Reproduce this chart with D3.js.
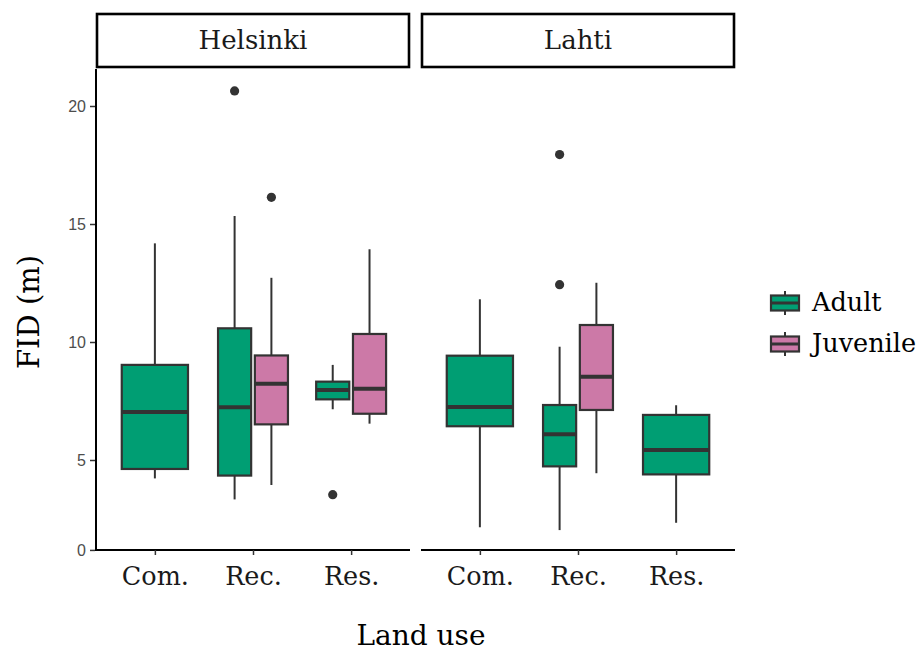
<!DOCTYPE html>
<html>
<head>
<meta charset="utf-8">
<script src="https://cdn.jsdelivr.net/npm/d3@7"></script>
<style>
  html, body { margin: 0; padding: 0; background: #fff; }
  svg { display: block; }
</style>
</head>
<body>
<svg id="chart" width="924" height="653"></svg>
<script>
// ---------------- DATA ----------------
const facets = ["Helsinki", "Lahti"];
const categories = ["Com.", "Rec.", "Res."];
const groups = ["Adult", "Juvenile"];
const groupColors = ["#009E73", "#CC79A7"];

// one entry per box
const boxFacet   = ["Helsinki","Helsinki","Helsinki","Helsinki","Helsinki","Lahti","Lahti","Lahti","Lahti"];
const boxCat     = ["Com.","Rec.","Rec.","Res.","Res.","Com.","Rec.","Rec.","Res."];
const boxGroup   = ["Adult","Adult","Juvenile","Adult","Juvenile","Adult","Adult","Juvenile","Adult"];
const whiskerLow = [4.22, 3.33, 3.94, 7.15, 6.54, 2.15, 2.03, 4.44, 2.34];
const q1         = [4.62, 4.34, 6.51, 7.57, 6.96, 6.43, 4.73, 7.12, 4.39];
const median     = [7.03, 7.23, 8.23, 7.97, 8.02, 7.25, 6.09, 8.53, 5.42];
const q3         = [9.03, 10.58, 9.43, 8.32, 10.34, 9.42, 7.33, 10.72, 6.91];
const whiskerHigh= [14.18, 15.34, 12.72, 9.03, 13.93, 11.81, 9.80, 12.51, 7.32];
const outliers   = [[], [20.64], [16.13], [3.53], [], [], [17.94, 12.43], [], []];

// y axis ticks (bottom label "0" sits at the lower limit of the axis)
const yTickValues = [1.19, 5, 10, 15, 20];
const yTickLabels = ["0", "5", "10", "15", "20"];

// ---------------- LAYOUT ----------------
const svg = d3.select("#chart");
const panelX = { "Helsinki": [96, 410], "Lahti": [421, 735] };
const panelTop = 68, panelBottom = 550;
const stripTop = 14;
const lineCol = "#333333";

const y = d3.scaleLinear().domain([5, 20]).range([460, 106]);

const xScales = {};
facets.forEach(f => {
  xScales[f] = d3.scalePoint().domain(categories).range(panelX[f]).padding(0.6);
});

// strips
facets.forEach(f => {
  const [x0, x1] = panelX[f];
  svg.append("rect")
    .attr("x", x0 + 1).attr("y", stripTop)
    .attr("width", x1 - x0 - 2).attr("height", panelTop - stripTop - 1)
    .attr("fill", "#fff").attr("stroke", "#000").attr("stroke-width", 2.6);
  svg.append("text")
    .attr("x", (x0 + x1) / 2).attr("y", (stripTop + panelTop) / 2 + 1)
    .attr("text-anchor", "middle").attr("dominant-baseline", "middle")
    .attr("font-family", "DejaVu Serif").attr("font-size", 26)
    .attr("fill", "#1a1a1a")
    .text(f);
});

// boxes
const nPerCat = {};
boxFacet.forEach((f, i) => {
  const k = f + "|" + boxCat[i];
  nPerCat[k] = (nPerCat[k] || 0) + 1;
});

boxFacet.forEach((f, i) => {
  const xs = xScales[f];
  const step = xs.step();
  const total = 0.75 * step;
  const k = f + "|" + boxCat[i];
  const n = nPerCat[k];
  let cx, w;
  if (n === 1) {
    cx = xs(boxCat[i]);
    w = total * 0.9;
  } else {
    const gi = groups.indexOf(boxGroup[i]);
    const sub = total / n;
    cx = xs(boxCat[i]) - total / 2 + sub * (gi + 0.5);
    w = sub * 0.9;
  }
  const col = groupColors[groups.indexOf(boxGroup[i])];
  const g = svg.append("g");
  g.append("line").attr("x1", cx).attr("x2", cx)
    .attr("y1", y(q3[i])).attr("y2", y(whiskerHigh[i]))
    .attr("stroke", lineCol).attr("stroke-width", 2);
  g.append("line").attr("x1", cx).attr("x2", cx)
    .attr("y1", y(q1[i])).attr("y2", y(whiskerLow[i]))
    .attr("stroke", lineCol).attr("stroke-width", 2);
  g.append("rect")
    .attr("x", cx - w / 2).attr("y", y(q3[i]))
    .attr("width", w).attr("height", y(q1[i]) - y(q3[i]))
    .attr("fill", col).attr("stroke", lineCol).attr("stroke-width", 2.2);
  g.append("line").attr("x1", cx - w / 2).attr("x2", cx + w / 2)
    .attr("y1", y(median[i])).attr("y2", y(median[i]))
    .attr("stroke", lineCol).attr("stroke-width", 4);
  outliers[i].forEach(v => {
    g.append("circle").attr("cx", cx).attr("cy", y(v)).attr("r", 4.6)
      .attr("fill", lineCol);
  });
});

// left axis line
svg.append("line").attr("x1", 96).attr("x2", 96)
  .attr("y1", panelTop + 1).attr("y2", panelBottom + 1)
  .attr("stroke", "#000").attr("stroke-width", 2);

// y axis ticks & labels
const yAxis = d3.axisLeft(y).tickValues(yTickValues)
  .tickFormat((d, i) => yTickLabels[i]).tickSize(5).tickPadding(4);
const yg = svg.append("g").attr("transform", "translate(95,0)").call(yAxis);
yg.select(".domain").remove();
yg.selectAll(".tick line").attr("stroke", "#333").attr("stroke-width", 1.5);
yg.selectAll(".tick text").attr("font-family", "Liberation Sans, Arial, sans-serif")
  .attr("font-size", 16).attr("fill", "#4d4d4d");

// x axes per panel
facets.forEach(f => {
  const xs = xScales[f];
  const [x0, x1] = panelX[f];
  svg.append("line").attr("x1", x0).attr("x2", x1)
    .attr("y1", panelBottom).attr("y2", panelBottom)
    .attr("stroke", "#000").attr("stroke-width", 2);
  const xa = d3.axisBottom(xs).tickSize(5).tickPadding(12);
  const xg = svg.append("g").attr("transform", `translate(0,${panelBottom})`).call(xa);
  xg.select(".domain").remove();
  xg.selectAll(".tick line").attr("stroke", "#333").attr("stroke-width", 1.5);
  xg.selectAll(".tick text").attr("font-family", "DejaVu Serif")
    .attr("font-size", 25.5).attr("fill", "#1a1a1a");
});

// axis titles
svg.append("text").attr("x", 421).attr("y", 645)
  .attr("text-anchor", "middle").attr("font-family", "DejaVu Serif")
  .attr("font-size", 28).attr("fill", "#000").text("Land use");
svg.append("text")
  .attr("transform", "translate(39,312) rotate(-90)")
  .attr("text-anchor", "middle").attr("font-family", "DejaVu Serif")
  .attr("font-size", 29).attr("fill", "#000").text("FID (m)");

// legend
const legY = [303, 344];
groups.forEach((gName, i) => {
  const cy = legY[i];
  const lx = 771, lw = 28, lh = 15;
  const lg = svg.append("g");
  lg.append("line").attr("x1", lx + lw / 2).attr("x2", lx + lw / 2)
    .attr("y1", cy - 12).attr("y2", cy + 12)
    .attr("stroke", lineCol).attr("stroke-width", 2);
  lg.append("rect").attr("x", lx).attr("y", cy - lh / 2)
    .attr("width", lw).attr("height", lh)
    .attr("fill", groupColors[i]).attr("stroke", lineCol).attr("stroke-width", 2.2);
  lg.append("line").attr("x1", lx).attr("x2", lx + lw)
    .attr("y1", cy).attr("y2", cy)
    .attr("stroke", lineCol).attr("stroke-width", 3);
  lg.append("text").attr("x", 812).attr("y", cy + 1)
    .attr("dominant-baseline", "middle")
    .attr("font-family", "DejaVu Serif").attr("font-size", 25.5)
    .attr("fill", "#000").text(gName);
});
</script>
</body>
</html>
